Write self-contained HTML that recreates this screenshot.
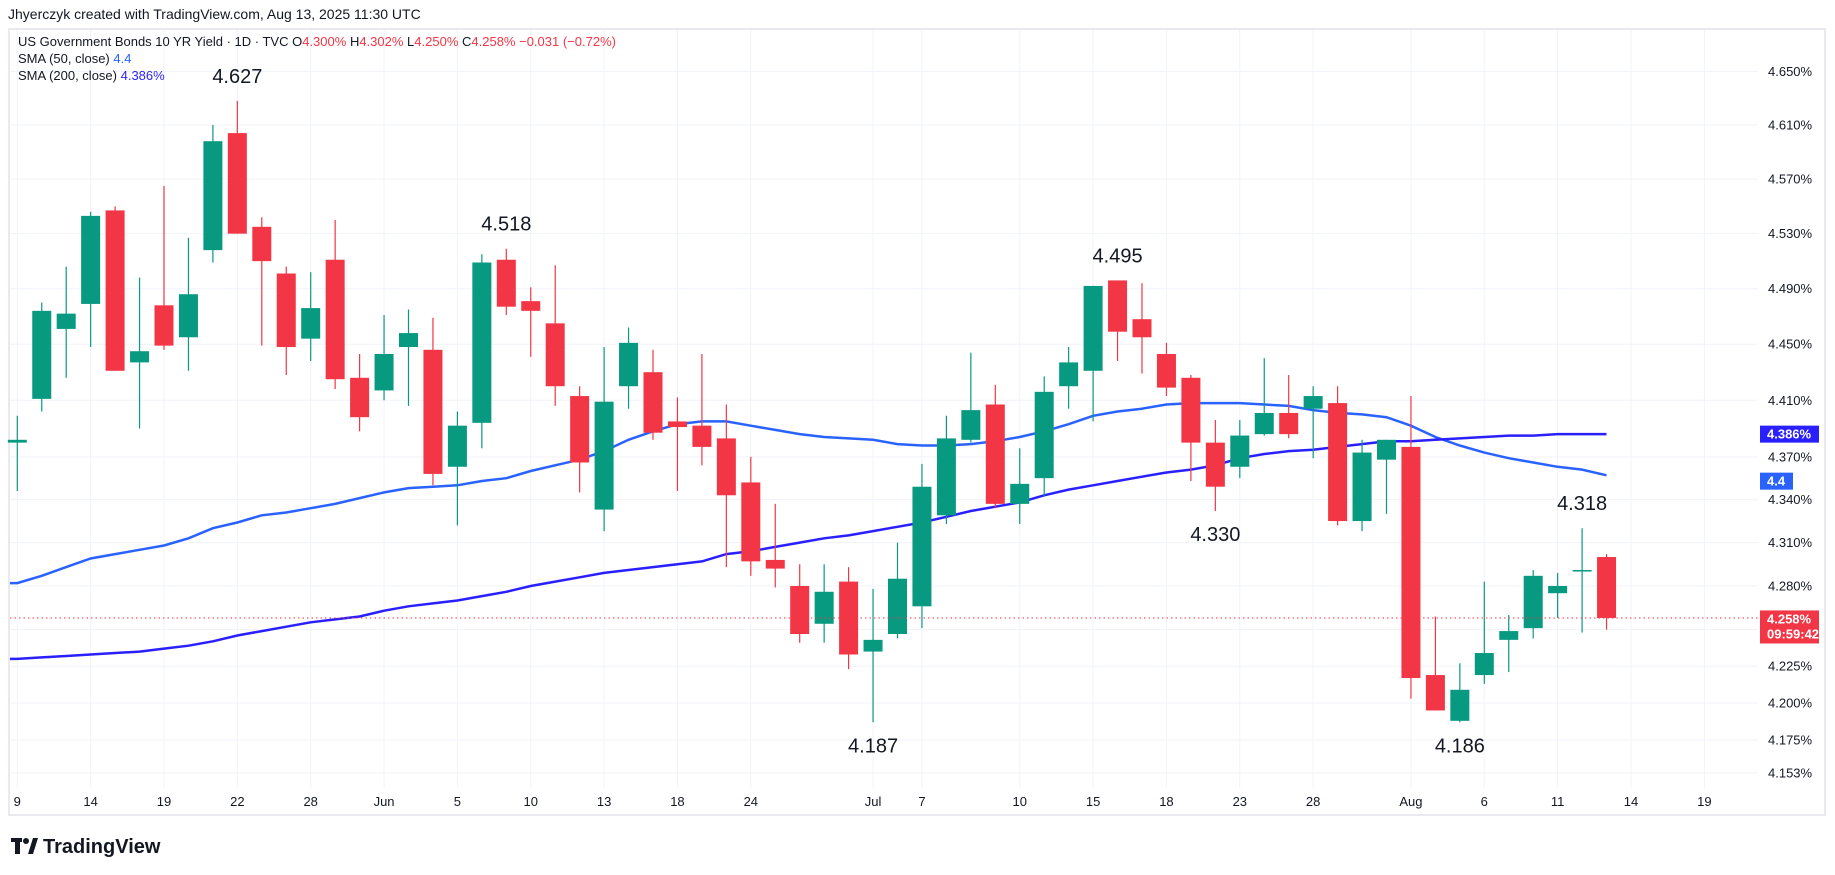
<!DOCTYPE html>
<html><head><meta charset="utf-8"><style>
html,body{margin:0;padding:0;background:#fff;}
svg{display:block;font-family:"Liberation Sans",sans-serif;}
</style></head><body>
<svg id="chart" width="1835" height="875" viewBox="0 0 1835 875">
<text x="8" y="19" font-size="14" fill="#131722">Jhyerczyk created with TradingView.com, Aug 13, 2025 11:30 UTC</text>
<rect x="9" y="29" width="1816" height="786" fill="none" stroke="#e8eaef" stroke-width="2"/>
<g id="grid"></g>
<g id="smas"></g>
<g id="candles"></g>
<g id="axes"></g>
<g id="notes"></g>
<g font-size="13">
<text x="18" y="46" fill="#131722">US Government Bonds 10 YR Yield · 1D · TVC  <tspan fill="#131722">O</tspan><tspan fill="#f23645">4.300%</tspan>  <tspan fill="#131722">H</tspan><tspan fill="#f23645">4.302%</tspan>  <tspan fill="#131722">L</tspan><tspan fill="#f23645">4.250%</tspan>  <tspan fill="#131722">C</tspan><tspan fill="#f23645">4.258%</tspan>  <tspan fill="#f23645">−0.031 (−0.72%)</tspan></text>
<text x="18" y="63" fill="#131722">SMA (50, close)  <tspan fill="#2962ff">4.4</tspan></text>
<text x="18" y="80" fill="#131722">SMA (200, close)  <tspan fill="#2a1fff">4.386%</tspan></text>
</g>
<g>
<rect x="11" y="838" width="11" height="4" fill="#131722"/><rect x="15" y="838" width="5" height="16" fill="#131722"/>
<circle cx="26" cy="841" r="3" fill="#131722"/><polygon points="28,854 33,838 38,838 33,854" fill="#131722"/>
<text x="43" y="853" font-size="20" font-weight="bold" fill="#131722">TradingView</text>
</g>
</svg>
<script>
const opens  = [4.380,4.411,4.461,4.479,4.547,4.437,4.478,4.455,4.518,4.604,4.535,4.501,4.454,4.511,4.426,4.417,4.448,4.446,4.363,4.394,4.511,4.481,4.465,4.413,4.333,4.420,4.430,4.395,4.392,4.383,4.352,4.298,4.280,4.254,4.283,4.235,4.247,4.266,4.329,4.382,4.407,4.337,4.355,4.420,4.431,4.496,4.468,4.443,4.426,4.380,4.363,4.386,4.401,4.404,4.408,4.325,4.368,4.377,4.219,4.188,4.219,4.243,4.251,4.275,4.290,4.300];
const highs  = [4.399,4.480,4.506,4.546,4.550,4.498,4.565,4.527,4.610,4.628,4.542,4.506,4.502,4.540,4.443,4.471,4.475,4.469,4.402,4.515,4.519,4.491,4.507,4.420,4.448,4.462,4.446,4.412,4.443,4.407,4.370,4.337,4.295,4.295,4.293,4.278,4.310,4.365,4.399,4.444,4.421,4.376,4.427,4.448,4.492,4.496,4.494,4.451,4.428,4.396,4.396,4.440,4.428,4.420,4.420,4.382,4.382,4.413,4.259,4.227,4.283,4.260,4.291,4.289,4.320,4.302];
const lows   = [4.346,4.402,4.426,4.448,4.431,4.390,4.446,4.431,4.509,4.530,4.449,4.428,4.438,4.418,4.388,4.410,4.406,4.350,4.322,4.376,4.471,4.441,4.406,4.345,4.318,4.404,4.382,4.346,4.364,4.293,4.287,4.279,4.241,4.241,4.223,4.187,4.244,4.251,4.323,4.380,4.334,4.323,4.342,4.404,4.395,4.438,4.429,4.413,4.353,4.332,4.355,4.385,4.383,4.369,4.322,4.318,4.330,4.203,4.195,4.187,4.213,4.221,4.244,4.258,4.248,4.250];
const closes = [4.382,4.474,4.472,4.543,4.431,4.445,4.449,4.486,4.598,4.530,4.510,4.448,4.476,4.425,4.398,4.443,4.458,4.358,4.392,4.509,4.477,4.474,4.420,4.366,4.409,4.451,4.387,4.391,4.377,4.343,4.297,4.292,4.247,4.276,4.233,4.243,4.285,4.349,4.383,4.403,4.337,4.351,4.416,4.437,4.492,4.459,4.455,4.419,4.380,4.349,4.385,4.401,4.386,4.413,4.325,4.373,4.382,4.217,4.195,4.209,4.234,4.249,4.287,4.280,4.291,4.258];
const sma50  = [4.282,4.287,4.293,4.299,4.302,4.305,4.308,4.313,4.320,4.324,4.329,4.331,4.334,4.337,4.341,4.345,4.348,4.349,4.350,4.353,4.355,4.360,4.364,4.368,4.374,4.382,4.388,4.393,4.395,4.395,4.392,4.389,4.386,4.384,4.383,4.382,4.379,4.378,4.378,4.379,4.381,4.384,4.388,4.393,4.399,4.402,4.404,4.407,4.408,4.408,4.408,4.407,4.406,4.403,4.401,4.400,4.398,4.392,4.384,4.378,4.373,4.369,4.366,4.363,4.361,4.357];
const sma200 = [4.230,4.231,4.232,4.233,4.234,4.235,4.237,4.239,4.242,4.246,4.249,4.252,4.255,4.257,4.259,4.263,4.266,4.268,4.270,4.273,4.276,4.280,4.283,4.286,4.289,4.291,4.293,4.295,4.297,4.302,4.304,4.307,4.310,4.313,4.315,4.318,4.321,4.324,4.328,4.332,4.335,4.338,4.343,4.347,4.350,4.353,4.356,4.359,4.361,4.364,4.369,4.372,4.374,4.375,4.377,4.379,4.381,4.381,4.382,4.383,4.384,4.385,4.385,4.386,4.386,4.386];
const priceTicks = [4.650,4.610,4.570,4.530,4.490,4.450,4.410,4.370,4.340,4.310,4.280,4.250,4.225,4.200,4.175,4.153];
const dateLabels = ['9','14','19','22','28','Jun','5','10','13','18','24','Jul','7','10','15','18','23','28','Aug','6','11','14','19'];
const dateIndex  = [0,3,6,9,12,15,18,21,24,27,30,35,37,41,44,47,50,53,57,60,63,66,69];
const noteLabels = ['4.627','4.518','4.187','4.495','4.330','4.186','4.318'];
const noteIndex  = [9,20,35,45,49,59,64];
const noteSide   = ['high','high','low','high','low','low','high'];
const lastPrice = 4.258, sma50Last = 4.355, sma200Last = 4.386;

const NS='http://www.w3.org/2000/svg';
const yS = v => 71.4 + 6206*Math.log(4.65/v);
const xS = i => 17.3 + 24.45*i;
function mk(tag, attrs, parent){const e=document.createElementNS(NS,tag);for(const k in attrs)e.setAttribute(k,attrs[k]);parent.appendChild(e);return e;}
const grid=document.getElementById('grid'), axes=document.getElementById('axes');
priceTicks.forEach(p=>{
  const y=yS(p);
  const l=mk('line',{x1:10,x2:1758,y1:y,y2:y,stroke:'#f0f3fa','stroke-width':1},grid);
  
  
  const t=mk('text',{x:1768,y:y+4.5,'font-size':13,fill:'#131722'},axes);
  t.textContent=p.toFixed(3)+'%';
  
  
});
dateLabels.forEach((d,k)=>{
  const x=xS(dateIndex[k]);
  const l=mk('line',{x1:x,x2:x,y1:30,y2:788,stroke:'#f0f3fa','stroke-width':1},grid);
  
  
  const t=mk('text',{x:x,y:806,'font-size':13,fill:'#131722','text-anchor':'middle'},axes);
  t.textContent=d;
  
  
});
const smas=document.getElementById('smas');
function line(arr,color,w,name){
  const d=arr.map((v,i)=>(i?'L':'M')+xS(i).toFixed(1)+' '+yS(v).toFixed(1)).join(' ');
  const p=mk('path',{d:'M10 '+yS(arr[0]).toFixed(1)+' '+d.replace('M','L'),fill:'none',stroke:color,'stroke-width':w},smas);
  
  
}
line(sma50,'#2962ff',2.5,'sma50-line');
line(sma200,'#2a1fff',2.5,'sma200-line');
const cg=document.getElementById('candles');
opens.forEach((o,i)=>{
  const c=closes[i], up=c>=o, col=up?'#089981':'#f23645', x=xS(i);
  const w=mk('line',{x1:x,x2:x,y1:yS(highs[i]),y2:yS(lows[i]),stroke:col,'stroke-width':1.2},cg);
  
  
  const top=yS(Math.max(o,c)), bot=yS(Math.min(o,c));
  const b=mk('rect',{x:x-9.5,y:top,width:19,height:Math.max(bot-top,1.5),fill:col},cg);
  
  
});
const yl=yS(lastPrice);
const dl=mk('line',{x1:10,x2:1758,y1:yl,y2:yl,stroke:'#f23645','stroke-width':1,'stroke-dasharray':'1.5 3'},axes);


function tag(y,h,color,lines,name){
  const g=mk('g',{},axes);
  
  
  mk('rect',{x:1760,y:y-h/2,width:lines[0].length>4?59:33,height:h,fill:color},g);
  lines.forEach((s,k)=>{const t=mk('text',{x:1767,y:y-h/2+13+k*15,'font-size':13,fill:'#fff','font-weight':'bold'},g);t.textContent=s;});
}
tag(yS(sma200Last),17,'#2a1fff',[sma200Last.toFixed(3)+'%'],'sma200-price-tag');
tag(yS(sma50Last)+3,17,'#2962ff',['4.4'],'sma50-price-tag');
tag(yl+9,33,'#f23645',[lastPrice.toFixed(3)+'%','09:59:42'],'last-price-tag');
const notes=document.getElementById('notes');
noteLabels.forEach((s,k)=>{
  const i=noteIndex[k];
  const y=noteSide[k]==='high'?yS(highs[i])-18:yS(lows[i])+30;
  const t=mk('text',{x:xS(i),y:y,'font-size':20,fill:'#131722','text-anchor':'middle'},notes);
  t.textContent=s;
  
  
});
</script>
</body></html>
